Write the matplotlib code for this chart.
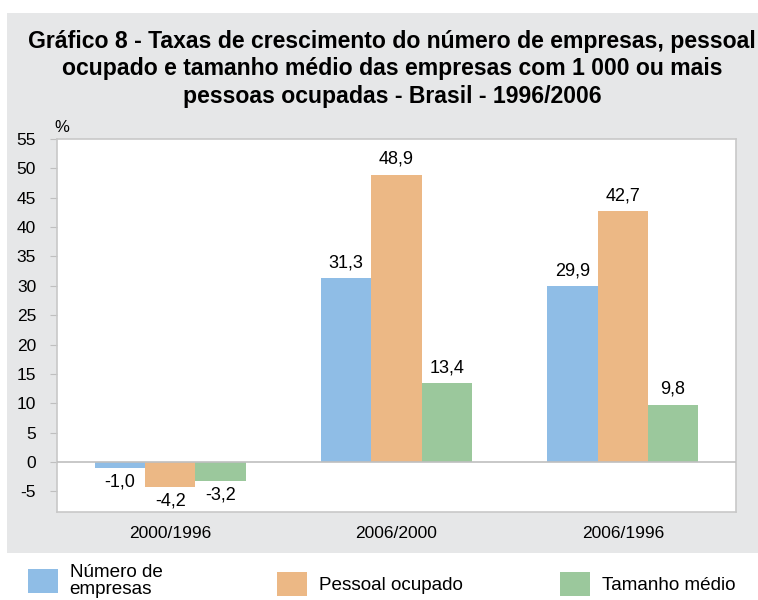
import numpy as np
import matplotlib.pyplot as plt
from matplotlib.patches import Rectangle

# data
periods = ['2000/1996', '2006/2000', '2006/1996']
series_names = ['Número de\nempresas', 'Pessoal ocupado', 'Tamanho médio']
numero_empresas = [-1.0, 31.3, 29.9]
pessoal_ocupado = [-4.2, 48.9, 42.7]
tamanho_medio = [-3.2, 13.4, 9.8]
yticks = list(range(-5, 56, 5))

colors = ['#8fbde6', '#ecb885', '#9bc89c']
font = ['Liberation Sans', 'DejaVu Sans']
plt.rcParams['font.family'] = font

W, H = 758, 600
fig = plt.figure(figsize=(W / 100, H / 100), dpi=100)
fig.patch.set_facecolor('white')

def fx(x):
    return x / W

def fy(y):
    return 1 - y / H

# gray panel behind title and chart
panel = Rectangle((fx(7), fy(553)), 1, (553 - 13) / H, transform=fig.transFigure,
                  facecolor='#e6e7e8', edgecolor='none', zorder=-10)
fig.patches.append(panel)

fig.text(fx(392), fy(30), 'Gráfico 8 - Taxas de crescimento do número de empresas, pessoal\n'
         'ocupado e tamanho médio das empresas com 1 000 ou mais\n'
         'pessoas ocupadas - Brasil - 1996/2006',
         ha='center', va='top', fontsize=16.6, fontweight='bold', linespacing=1.24)

ax = fig.add_axes([fx(57), fy(512), fx(736) - fx(57), (512 - 139) / H])
ax.set_facecolor('white')

x = np.arange(len(periods))
width = 0.222
all_series = [numero_empresas, pessoal_ocupado, tamanho_medio]
handles = []
for i, (vals, name) in enumerate(zip(all_series, series_names)):
    pos = x + (i - 1) * width
    bars = ax.bar(pos, vals, width, color=colors[i], label=name, zorder=2)
    handles.append(bars)
    for b, v in zip(bars, vals):
        lbl = f'{v:.1f}'.replace('.', ',')
        if v >= 0:
            ax.annotate(lbl, (b.get_x() + b.get_width() / 2, v), xytext=(0, 5),
                        textcoords='offset points', ha='center', va='bottom', fontsize=13)
        else:
            ax.annotate(lbl, (b.get_x() + b.get_width() / 2, v), xytext=(0, -4),
                        textcoords='offset points', ha='center', va='top', fontsize=13)

ax.axhline(0, color='#bfbfbf', lw=1.2, zorder=3)
ax.set_xlim(-0.5, 2.5)
ax.set_ylim(-8.5, 55)
ax.set_yticks(yticks)
ax.set_yticklabels([str(t) for t in yticks], fontsize=12.5)
ax.set_xticks(x)
ax.set_xticklabels(periods, fontsize=12.5)
ax.tick_params(axis='x', length=0, pad=10)
ax.tick_params(axis='y', length=5, color='#bfbfbf', pad=10)
for sp in ax.spines.values():
    sp.set_color('#c8c8c8')
    sp.set_linewidth(1.2)

fig.text(fx(62), fy(127), '%', ha='center', va='center', fontsize=12)

# one legend per entry so each square sits where the reference has it
legend_x = [28, 277, 560]
legend_y = [581, 584, 584]
for h, name, lx, ly in zip(handles, series_names, legend_x, legend_y):
    leg = fig.legend([h], [name], loc='center left',
                     bbox_to_anchor=(fx(lx), fy(ly)), frameon=False,
                     prop={'size': 13.6}, handlelength=1.6, handleheight=1.6,
                     handletextpad=0.6, borderpad=0, borderaxespad=0)
    for t in leg.get_texts():
        t.set_linespacing(1.0)

fig.savefig('out.png', dpi=100)
